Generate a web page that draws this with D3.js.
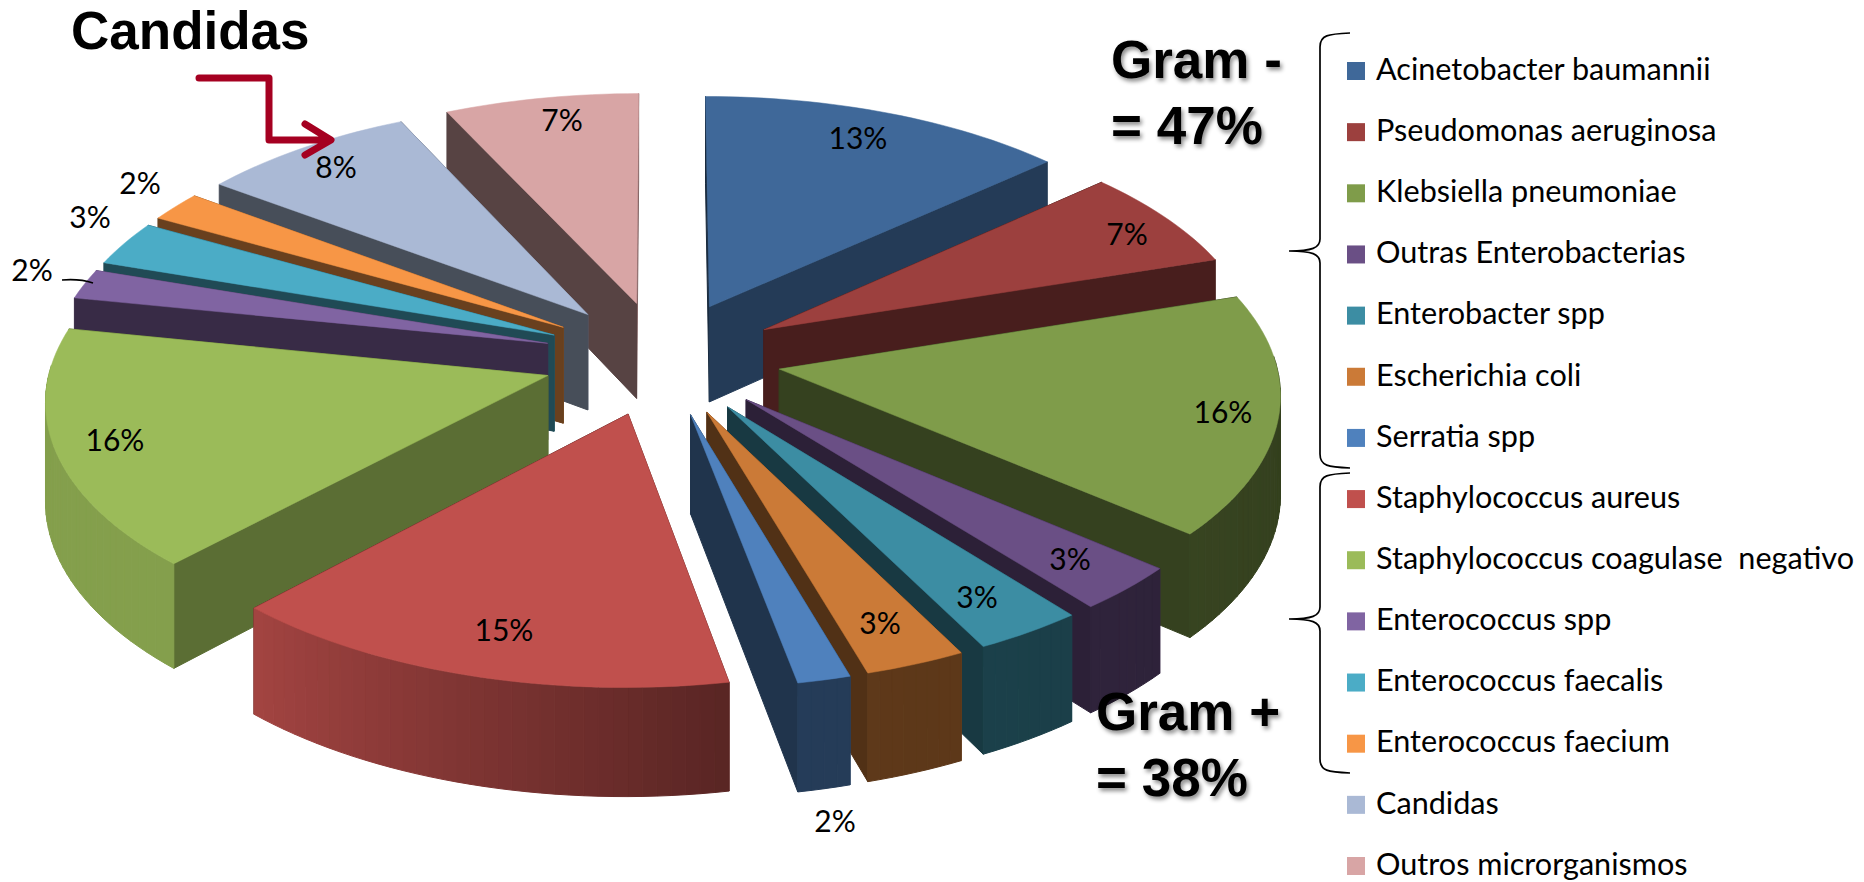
<!DOCTYPE html>
<html><head><meta charset="utf-8">
<script src="https://cdn.jsdelivr.net/npm/d3@7"></script>
<style>
html,body{margin:0;padding:0;background:#fff}
svg{display:block}
.big{font-family:"Liberation Sans",Arial,sans-serif;font-weight:700;font-size:53px;fill:#000}
.sh{filter:drop-shadow(2px 3px 2px rgba(0,0,0,.45))}
.pct{font-family:Lato,"Open Sans",sans-serif;font-size:30px;fill:#000;text-anchor:middle;dominant-baseline:middle}
.leg{font-family:Lato,"Open Sans",sans-serif;font-size:30.6px;fill:#000;dominant-baseline:middle}
</style></head><body>
<svg id="c" width="1864" height="882"></svg>
<script>
const categories=["Acinetobacter baumannii","Pseudomonas aeruginosa","Klebsiella pneumoniae","Outras Enterobacterias","Enterobacter spp","Escherichia coli","Serratia spp","Staphylococcus aureus","Staphylococcus coagulase  negativo","Enterococcus spp","Enterococcus faecalis","Enterococcus faecium","Candidas","Outros microrganismos"];
const values=[13.3,6.7,16.2,3.1,3.2,2.95,1.55,15,16.15,2,3,2,7.85,7];
const colors=["#3F6899","#9C403E","#7F9C4A","#6A4F85","#3C8DA3","#CB7A37","#4F81BD","#C0504D","#9BBB59","#8064A2","#4BACC6","#F79646","#AAB9D5","#D8A5A5"];
const labelX=[858,1127,1223,1070,977,880,835,504,115,32,90,140,336,562];
const labelY=[141,237,415,562,600,626,824,633,443,273,220,186,170,123];

const svg=d3.select("#c");
const cx=662,cy=358,R=496,off=119,tilt=.48,D=5500,H=97;
const pie=d3.pie().value(d=>d).sort(null).startAngle(0).endAngle(2*Math.PI);
const arcs=pie(values);
const deg=a=>a*180/Math.PI;
const sideShade=d3.scaleLinear().domain([130,165,250]).range([.6,.45,.4]).clamp(true);
const rimShade=d3.scaleLinear().domain([90,170,223,285]).range([.4,.47,.85,.85]).clamp(true);
const dark=(c,k)=>{const o=d3.rgb(c);return d3.rgb(o.r*k,o.g*k,o.b*k).formatHex();};
// projection of a ground-plane point into the picture, with perspective
function proj(wx,wy,z){const s=D/(D+wy);return [cx+wx*s,cy-wy*tilt*s+z*H*s];}
const line=d3.line();
const g=svg.append("g");
const order=arcs.map((a,i)=>({a,i,m:(a.startAngle+a.endAngle)/2})).sort((p,q)=>Math.cos(q.m)-Math.cos(p.m));
order.forEach(({a,i,m})=>{
  const ox=off*Math.sin(m),oy=off*Math.cos(m),col=colors[i];
  const pt=(ang,r,z)=>proj(ox+r*Math.sin(ang),oy+r*Math.cos(ang),z);
  const quad=(p,f)=>g.append("path").attr("d",line(p)+"Z").attr("fill",f).attr("stroke",f).attr("stroke-width",1);
  const sideFace=(ang,normal)=>{
    const n=((deg(normal)%360)+360)%360;
    quad([pt(ang,0,0),pt(ang,R,0),pt(ang,R,1),pt(ang,0,1)],dark(col,sideShade(n)));
  };
  // the side turned away from the viewer goes first
  if(Math.sin(m)<0){
    sideFace(a.endAngle,a.endAngle+Math.PI/2);
    sideFace(a.startAngle,a.startAngle-Math.PI/2);
  }else{
    sideFace(a.startAngle,a.startAngle-Math.PI/2);
    sideFace(a.endAngle,a.endAngle+Math.PI/2);
  }
  const steps=d3.range(0,Math.ceil(deg(a.endAngle-a.startAngle)/1.5)+1);
  const n=steps.length-1;
  const angs=steps.map(k=>a.startAngle+(a.endAngle-a.startAngle)*k/n);
  d3.pairs(angs).forEach(([u,v])=>{
    const mid=(u+v)/2;
    if(Math.cos(mid)<0.05) quad([pt(u,R,0),pt(v,R,0),pt(v,R,1),pt(u,R,1)],dark(col,rimShade(deg(mid))));
  });
  g.append("path").attr("d",line([pt(0,0,0),...angs.map(t=>pt(t,R,0))])+"Z").attr("fill",col).attr("stroke",col).attr("stroke-width",.5);
});

// percentage labels
svg.append("g").selectAll("text").data(values).join("text").attr("class","pct")
  .attr("x",(d,i)=>labelX[i]).attr("y",(d,i)=>labelY[i]).text(d=>Math.round(d)+"%");
svg.append("path").attr("d","M62,280C74,279 84,280 93,283").attr("fill","none").attr("stroke","#000").attr("stroke-width",1.6);

// legend
const rowY=d3.scalePoint().domain(d3.range(categories.length)).range([71,866]);
const leg=svg.append("g");
leg.selectAll("rect").data(categories).join("rect").attr("x",1347).attr("y",(d,i)=>rowY(i)-9).attr("width",18).attr("height",18).attr("fill",(d,i)=>colors[i]);
leg.selectAll("text").data(categories).join("text").attr("class","leg").attr("xml:space","preserve").style("white-space","pre")
  .attr("x",1376).attr("y",(d,i)=>rowY(i)+1).text(d=>d);

// braces
function brace(x,tip,y0,ym,y1){
  const w=30;
  return `M${x+w},${y0}C${x+8},${y0+1} ${x},${y0+2} ${x},${y0+14}L${x},${ym-12}C${x},${ym-3} ${x-8},${ym} ${tip},${ym}C${x-8},${ym} ${x},${ym+3} ${x},${ym+12}L${x},${y1-14}C${x},${y1-2} ${x+8},${y1-1} ${x+w},${y1}`;
}
svg.append("path").attr("d",brace(1320,1289,33,251,468)).attr("fill","none").attr("stroke","#000").attr("stroke-width",1.7);
svg.append("path").attr("d",brace(1320,1289,473,619,773)).attr("fill","none").attr("stroke","#000").attr("stroke-width",1.7);

// annotations
const big=[["Candidas",71,49,false],["Gram -",1111,78,true],["= 47%",1111,144,true],["Gram +",1096,730,true],["= 38%",1096,796,true]];
svg.append("g").selectAll("text").data(big).join("text").attr("class",d=>d[3]?"big sh":"big")
  .attr("x",d=>d[1]).attr("y",d=>d[2]).text(d=>d[0]);
svg.append("path").attr("d","M199,78H269V140H328M305,124L331,140L305,155").attr("fill","none").attr("stroke","#A50021").attr("stroke-width",7).attr("stroke-linejoin","round").attr("stroke-linecap","round");
</script></body></html>
